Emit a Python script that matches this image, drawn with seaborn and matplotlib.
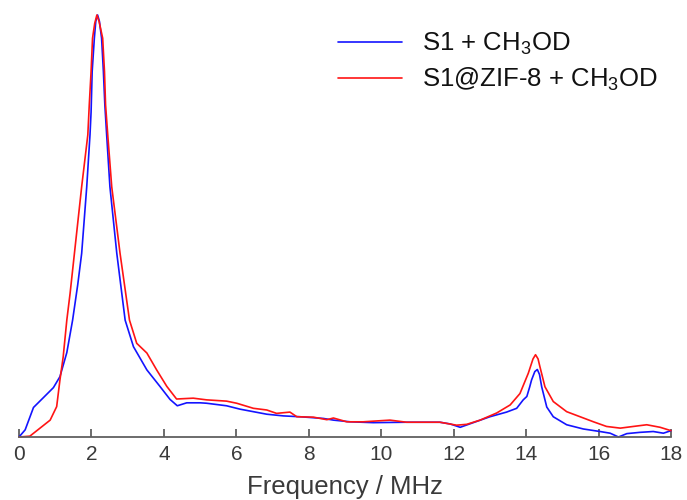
import matplotlib
matplotlib.use("Agg")
import matplotlib.pyplot as plt
import seaborn as sns
import pandas as pd

# Series 1: S1 + CH3OD (normalized intensity)
blue_x = [0.0, 0.17, 0.4, 0.67, 0.95, 1.13, 1.32, 1.48, 1.62, 1.73, 1.87, 1.96, 1.99, 2.02,
          2.08, 2.12, 2.17, 2.22, 2.28, 2.33, 2.37, 2.42, 2.51, 2.70, 2.93, 3.16, 3.53,
          3.89, 4.17, 4.37, 4.63, 5.0, 5.18,
          5.73, 6.1, 6.84, 7.3, 7.76, 8.4, 8.68, 9.14, 9.78, 10.7, 11.62, 11.9, 12.18,
          12.54, 13.0, 13.46, 13.74, 13.92, 14.02, 14.1, 14.15, 14.24, 14.31, 14.37, 14.43, 14.57,
          14.75, 15.12, 15.58, 16.04, 16.32, 16.55, 16.78, 17.14, 17.51, 17.79, 18.0]
blue_y = [0.0, 0.017, 0.07, 0.093, 0.117, 0.143, 0.2, 0.277, 0.36, 0.435, 0.593, 0.716, 0.77, 0.866,
          0.945, 0.985, 1.0, 0.985, 0.945, 0.866, 0.787, 0.716, 0.593, 0.435, 0.277, 0.214, 0.159,
          0.12, 0.089, 0.074, 0.081, 0.081, 0.08,
          0.074, 0.066, 0.054, 0.05, 0.048, 0.044, 0.04, 0.036, 0.034, 0.035, 0.035, 0.031, 0.023,
          0.034, 0.048, 0.059, 0.068, 0.088, 0.096, 0.119, 0.135, 0.155, 0.16, 0.148, 0.119, 0.071,
          0.048, 0.029, 0.019, 0.013, 0.009, 0.0, 0.008, 0.011, 0.013, 0.009, 0.015]

# Series 2: S1@ZIF-8 + CH3OD (normalized intensity)
red_x = [0.0, 0.3, 0.58, 0.86, 1.04, 1.13, 1.22, 1.32, 1.41, 1.53, 1.73, 1.90, 1.94, 1.99,
         2.03, 2.09, 2.15, 2.21, 2.31, 2.36, 2.39, 2.45, 2.56, 2.79, 3.05, 3.25, 3.53, 3.8,
         4.08, 4.35, 4.81, 5.18,
         5.73, 6.01, 6.47, 6.84, 7.11, 7.48, 7.67, 8.13, 8.5, 8.68, 9.05, 9.5, 10.24, 10.7,
         11.62, 12.08, 12.36, 12.73, 13.19, 13.56, 13.83, 14.06, 14.19, 14.26, 14.33, 14.38,
         14.52, 14.75, 15.12, 15.49, 15.86, 16.22, 16.6, 16.96, 17.33, 17.7, 18.0]
red_y = [0.0, 0.002, 0.021, 0.04, 0.072, 0.135, 0.19, 0.277, 0.34, 0.435, 0.593, 0.716, 0.787, 0.866,
         0.945, 0.98, 1.0, 0.985, 0.945, 0.866, 0.787, 0.716, 0.593, 0.435, 0.277, 0.222, 0.199, 0.159,
         0.12, 0.09, 0.092, 0.088,
         0.085, 0.08, 0.068, 0.064, 0.056, 0.059, 0.048, 0.047, 0.041, 0.045, 0.036, 0.036, 0.04, 0.035,
         0.035, 0.028, 0.03, 0.04, 0.057, 0.076, 0.103, 0.151, 0.185, 0.195, 0.185, 0.167,
         0.119, 0.084, 0.06, 0.048, 0.036, 0.025, 0.021, 0.025, 0.029, 0.023, 0.015]

labels = ["S1 + CH$_3$OD", "S1@ZIF-8 + CH$_3$OD"]
xticks = [0, 2, 4, 6, 8, 10, 12, 14, 16, 18]

sns.set_theme(style="white")
plt.rcParams["font.family"] = ["Liberation Sans", "DejaVu Sans"]
plt.rcParams["mathtext.default"] = "regular"

df = pd.concat([
    pd.DataFrame({"x": blue_x, "y": blue_y, "s": labels[0]}),
    pd.DataFrame({"x": red_x, "y": red_y, "s": labels[1]}),
])

fig = plt.figure(figsize=(6.87, 5.0), dpi=100)
ax = fig.add_axes([19/687, 1-437/500, (671-19)/687, (437-15)/500])
sns.lineplot(data=df, x="x", y="y", hue="s", palette=["#1414ff", "#ff1414"],
             linewidth=1.2, ax=ax, sort=False, legend=True)
for ln in ax.lines:
    ln.set_clip_on(False)
    ln.set_solid_joinstyle("round")

ax.set_xlim(0, 18)
ax.set_ylim(0, 1.0)
ax.set_xticks(xticks)
ax.set_xticklabels([str(t) for t in xticks])
ax.set_yticks([])
for s in ["top", "right", "left"]:
    ax.spines[s].set_visible(False)
ax.spines["bottom"].set_color("#606060")
ax.spines["bottom"].set_linewidth(1.3)
ax.tick_params(axis="x", direction="in", length=6, width=1.3, color="#606060",
               labelsize=15, labelcolor="#3a3a3a", pad=6, bottom=True)
ax.set_xlabel("Frequency / MHz", fontsize=18.5, color="#3a3a3a", labelpad=8)
ax.set_ylabel("")

leg = ax.legend(loc="upper left", bbox_to_anchor=(338/687, 1-31/500),
                bbox_transform=fig.transFigure, frameon=False, fontsize=18.5,
                handlelength=2.5, handletextpad=0.75, labelspacing=0.33,
                borderpad=0, borderaxespad=0, title=None)
for t in leg.get_texts():
    t.set_color("#111111")

fig.savefig("out.png", dpi=100)
